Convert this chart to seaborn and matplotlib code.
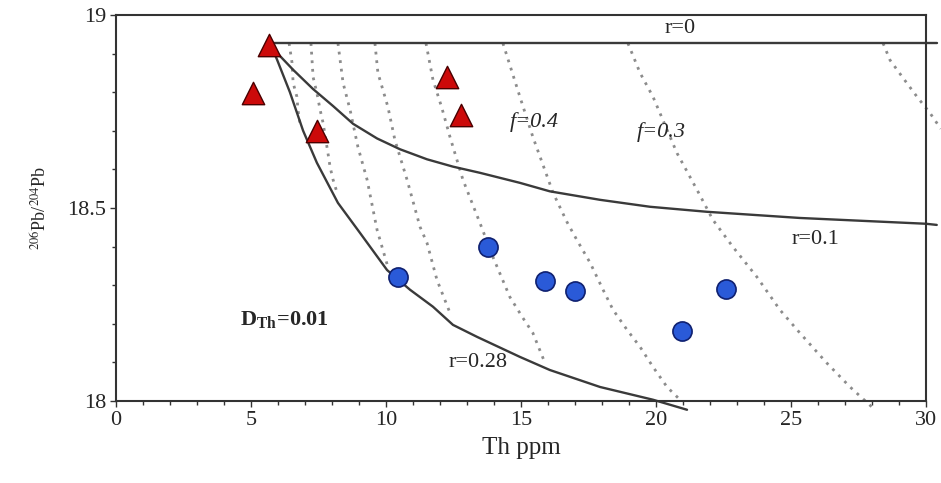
import matplotlib
matplotlib.use("Agg")
import matplotlib.pyplot as plt
import seaborn as sns
import pandas as pd

# ---- data ----
tri_th = [5.67, 5.07, 7.44, 12.26, 12.78]
tri_pb = [18.922, 18.797, 18.700, 18.840, 18.740]

cir_th = [10.44, 13.78, 15.89, 17.00, 20.96, 22.60]
cir_pb = [18.320, 18.400, 18.310, 18.286, 18.180, 18.290]

r0_th = [5.70, 30.40]
r0_pb = [18.927, 18.927]

r01_th = [5.70, 5.96, 6.56, 7.30, 8.04, 8.78, 9.67, 10.52, 11.52, 12.48, 13.48,
          14.96, 16.07, 17.93, 19.78, 21.89, 25.33, 30.0, 30.4]
r01_pb = [18.927, 18.902, 18.858, 18.808, 18.764, 18.718, 18.680, 18.652, 18.626,
          18.607, 18.591, 18.565, 18.543, 18.521, 18.503, 18.490, 18.474, 18.459, 18.456]

r028_th = [5.70, 5.96, 6.44, 6.93, 7.44, 8.22, 9.04, 10.04, 10.89, 11.74, 12.48,
           13.37, 14.96, 16.07, 17.93, 19.89, 21.15]
r028_pb = [18.927, 18.885, 18.800, 18.700, 18.617, 18.513, 18.435, 18.339, 18.288,
           18.244, 18.197, 18.166, 18.114, 18.080, 18.036, 18.003, 17.977]

f1_th = [6.41, 6.52, 6.56, 6.70, 6.74, 6.81]
f1_pb = [18.927, 18.876, 18.824, 18.788, 18.754, 18.720]
f2_th = [7.22, 7.30, 7.44, 7.56, 7.67, 7.85, 7.93, 8.04, 8.19]
f2_pb = [18.927, 18.839, 18.798, 18.754, 18.720, 18.642, 18.606, 18.573, 18.539]
f3_th = [8.22, 8.41, 8.67, 8.96, 9.30, 9.67, 10.07]
f3_pb = [18.927, 18.824, 18.754, 18.658, 18.573, 18.443, 18.347]
f4_th = [9.59, 9.70, 10.07, 10.33, 10.78, 11.26, 11.52, 11.89, 12.37]
f4_pb = [18.927, 18.850, 18.762, 18.676, 18.573, 18.451, 18.409, 18.313, 18.228]
f5_th = [11.48, 11.74, 12.07, 12.37, 12.85, 13.48, 13.96, 14.59, 15.07, 15.44, 15.85]
f5_pb = [18.927, 18.832, 18.759, 18.684, 18.573, 18.461, 18.373, 18.269, 18.215, 18.176, 18.105]
f6_th = [14.33, 14.96, 15.44, 16.19, 16.70, 17.07, 17.56, 18.04, 18.41, 18.93, 19.41, 19.89, 20.41, 20.89]
f6_pb = [18.927, 18.788, 18.684, 18.539, 18.464, 18.417, 18.358, 18.288, 18.236, 18.184,
         18.140, 18.088, 18.036, 18.003]
f7_th = [18.96, 19.41, 19.89, 20.78, 21.52, 22.11, 22.85, 23.74, 24.59, 25.33, 26.33, 27.19, 28.11]
f7_pb = [18.927, 18.850, 18.788, 18.642, 18.547, 18.469, 18.399, 18.321, 18.236, 18.176,
         18.098, 18.036, 17.977]
f8_th = [28.41, 28.67, 29.15, 29.67, 30.15, 30.55]
f8_pb = [18.927, 18.883, 18.837, 18.788, 18.746, 18.705]

x_ticks = [0, 5, 10, 15, 20, 25, 30]
y_ticks = [18, 18.5, 19]
y_tick_labels = ["18", "18.5", "19"]

# ---- plot ----
sns.set_theme(style="white")
plt.rcParams["font.family"] = ["Liberation Serif", "DejaVu Serif"]
plt.rcParams["mathtext.fontset"] = "stix"

fig = plt.figure(figsize=(9.41, 4.83), dpi=100)
ax = fig.add_axes([0.1233, 0.170, 0.8607, 0.799])

dot_curves = [(f1_th, f1_pb), (f2_th, f2_pb), (f3_th, f3_pb), (f4_th, f4_pb),
              (f5_th, f5_pb), (f6_th, f6_pb), (f7_th, f7_pb), (f8_th, f8_pb)]
for xs, ys in dot_curves:
    df = pd.DataFrame({"th": xs, "pb": ys})
    sns.lineplot(data=df, x="th", y="pb", ax=ax, sort=False, color="#8c8c8c",
                 lw=2.0, linestyle=(0, (1, 2.1)), clip_on=False)

for xs, ys in [(r0_th, r0_pb), (r01_th, r01_pb), (r028_th, r028_pb)]:
    df = pd.DataFrame({"th": xs, "pb": ys})
    sns.lineplot(data=df, x="th", y="pb", ax=ax, sort=False, color="#3a3a3a",
                 lw=1.7, clip_on=False)

sns.scatterplot(x=tri_th, y=tri_pb, ax=ax, marker="^", s=260, color="#cc0a0a",
                edgecolor="#4a0000", linewidth=1.0, zorder=5)
sns.scatterplot(x=cir_th, y=cir_pb, ax=ax, marker="o", s=190, color="#2a5ad8",
                edgecolor="#0f2070", linewidth=1.2, zorder=5)

ax.set_xlim(0, 30)
ax.set_ylim(18, 19)
ax.set_xticks(x_ticks)
ax.set_yticks(y_ticks)
ax.set_yticklabels(y_tick_labels)
ax.set_xticks(range(0, 31), minor=True)
ax.set_yticks([18 + 0.1 * i for i in range(11)], minor=True)
ax.tick_params(axis="both", which="both", direction="out", length=4, width=1,
               color="#333333", labelsize=16, pad=3, bottom=True, left=True)
ax.tick_params(axis="both", which="minor", length=3)

for sp in ax.spines.values():
    sp.set_color("#333333")
    sp.set_linewidth(1.5)

ax.set_xlabel("Th ppm", fontsize=18, labelpad=5)
ax.set_ylabel(r"$^{206}$Pb/$^{204}$Pb", fontsize=13, labelpad=12)

ax.text(20.9, 18.966, "r=0", fontsize=16, ha="center", va="center")
ax.text(15.5, 18.723, "f=0.4", fontsize=16, ha="center", va="center", style="italic")
ax.text(20.2, 18.697, "f=0.3", fontsize=16, ha="center", va="center", style="italic")
ax.text(25.9, 18.417, "r=0.1", fontsize=16, ha="center", va="center")
ax.text(13.4, 18.100, "r=0.28", fontsize=16, ha="center", va="center")
ax.text(4.6, 18.21, r"D$_{\mathregular{Th}}$=0.01", fontsize=16, ha="left", va="center",
        fontweight="bold")

fig.savefig("out.png", dpi=100)
